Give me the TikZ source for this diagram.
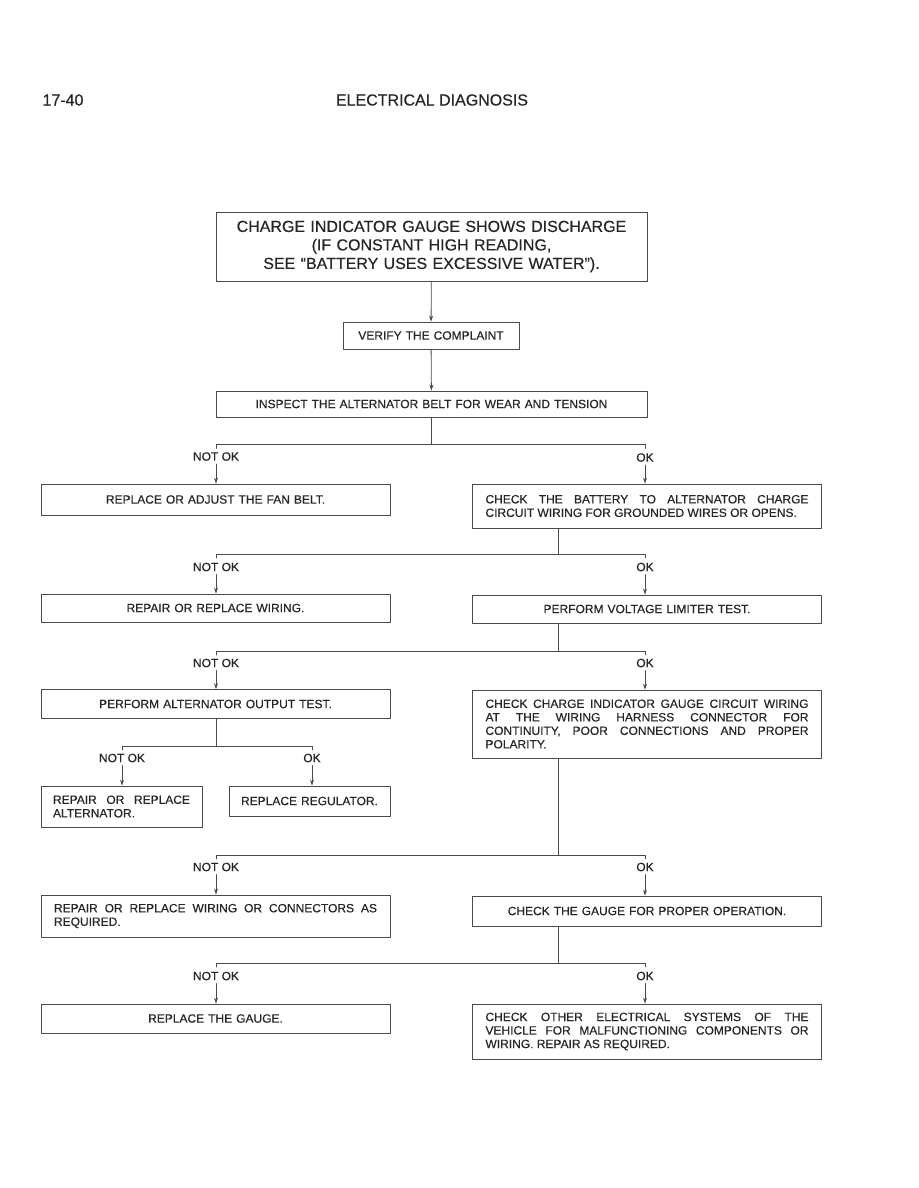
\documentclass[tikz,border=0pt]{standalone}
\usepackage{fontspec}
\setmainfont{Liberation Sans}
\newfontfamily\chartfont{Liberation Sans}[FakeBold=0.4]
\usepackage{tikz}
\usetikzlibrary{arrows.meta}
\definecolor{inkline}{HTML}{4A4A4A}
\definecolor{inktext}{HTML}{262626}
\tikzset{
every picture/.style={line cap=round,line join=round},
>={Stealth[length=6pt,width=4pt]},
chart box/.style={
  draw=inkline,
  line width=0.8pt,
  inner xsep=13pt,
  inner ysep=2pt,
  align=center,
  text=inktext,
  font=\chartfont\fontsize{12}{13.5}\selectfont
},
head box/.style={chart box, text width=405pt, font=\chartfont\fontsize{16}{18.5}\selectfont},
wide box/.style={chart box, text width=323pt},
wide text box/.style={wide box, align=justify},
narrow box/.style={chart box, text width=145pt, inner xsep=8pt},
narrow text box/.style={chart box, text width=137pt, inner xsep=12pt, align=justify},
branch label/.style={font=\chartfont\fontsize{12}{13.5}\selectfont, text=inktext, inner sep=3pt},
page head/.style={font=\chartfont\fontsize{16}{18}\selectfont, text=inktext, inner sep=0pt},
fig line/.style={draw=inkline, line width=0.8pt},
fig flow/.style={fig line, ->}
}
\begin{document}
\begin{tikzpicture}[x=1pt,y=-1pt]
\useasboundingbox[fill=white] (0,0) rectangle (918,1188);
\node[page head] (pagenum) at (63,100) {17-40};
\node[page head] (pagetitle) at (432,100) {ELECTRICAL DIAGNOSIS};

\node[head box, minimum height=69pt] (discharge) at (431.5,246.5) {CHARGE INDICATOR GAUGE SHOWS DISCHARGE\\(IF CONSTANT HIGH READING,\\SEE “BATTERY USES EXCESSIVE WATER”).};
\node[chart box, text width=150pt, minimum height=27pt] (verify) at (431,335.5) {VERIFY THE COMPLAINT};
\node[head box, font=\chartfont\fontsize{12}{13.5}\selectfont, minimum height=26pt] (belt) at (431.5,404) {INSPECT THE ALTERNATOR BELT FOR WEAR AND TENSION};
\node[wide box, minimum height=31pt] (fanbelt) at (215.5,499.5) {REPLACE OR ADJUST THE FAN BELT.};
\node[wide text box, minimum height=44pt] (battery) at (647,506) {CHECK THE BATTERY TO ALTERNATOR CHARGE\linebreak CIRCUIT WIRING FOR GROUNDED WIRES OR OPENS.};
\node[wide box, minimum height=28pt] (wiring) at (215.5,608) {REPAIR OR REPLACE WIRING.};
\node[wide box, minimum height=28pt] (limiter) at (647,609) {PERFORM VOLTAGE LIMITER TEST.};
\node[wide box, minimum height=29pt] (output) at (215.5,704) {PERFORM ALTERNATOR OUTPUT TEST.};
\node[wide text box, minimum height=68pt] (gaugewire) at (647,724) {CHECK CHARGE INDICATOR GAUGE CIRCUIT WIRING\linebreak AT THE WIRING HARNESS CONNECTOR FOR\linebreak CONTINUITY, POOR CONNECTIONS AND PROPER\linebreak POLARITY.};
\node[narrow text box, minimum height=41pt] (alternator) at (121.5,806.5) {REPAIR OR REPLACE\linebreak ALTERNATOR.};
\node[narrow box, minimum height=30pt] (regulator) at (309.5,801) {REPLACE REGULATOR.};
\node[wide text box, minimum height=42pt] (connectors) at (215.5,916) {REPAIR OR REPLACE WIRING OR CONNECTORS AS\linebreak REQUIRED.};
\node[wide box, minimum height=30pt] (gaugeop) at (647,911) {CHECK THE GAUGE FOR PROPER OPERATION.};
\node[wide box, minimum height=29pt] (gauge) at (215.5,1018.5) {REPLACE THE GAUGE.};
\node[wide text box, minimum height=55pt] (systems) at (647,1031.5) {CHECK OTHER ELECTRICAL SYSTEMS OF THE\linebreak VEHICLE FOR MALFUNCTIONING COMPONENTS OR\linebreak WIRING. REPAIR AS REQUIRED.};

\draw[fig flow] (discharge) -- (verify);
\draw[fig flow] (verify) -- (belt);

\coordinate (j1l) at (216,444.5);
\coordinate (j1r) at (645,444.5);
\draw[fig line] (belt.south) -- (belt.south |- j1l);
\draw[fig line] ([yshift=-4pt]j1l) -- (j1l) -- (j1r) -- ([yshift=-4pt]j1r);
\node[branch label] (notok1) at (216,456.5) {NOT OK};
\node[branch label] (ok1) at (645,457.5) {OK};
\draw[fig flow] (notok1.south) -- (notok1.south |- fanbelt.north);
\draw[fig flow] (ok1.south) -- (ok1.south |- battery.north);

\coordinate (s2) at (558,554);
\coordinate (j2l) at (216,554);
\coordinate (j2r) at (645,554);
\draw[fig line] (battery.south -| s2) -- (s2);
\draw[fig line] ([yshift=-4pt]j2l) -- (j2l) -- (j2r) -- ([yshift=-4pt]j2r);
\node[branch label] (notok2) at (216,567) {NOT OK};
\node[branch label] (ok2) at (645,567) {OK};
\draw[fig flow] (notok2.south) -- (notok2.south |- wiring.north);
\draw[fig flow] (ok2.south) -- (ok2.south |- limiter.north);

\coordinate (s3) at (558,651);
\coordinate (j3l) at (216,651);
\coordinate (j3r) at (645,651);
\draw[fig line] (limiter.south -| s3) -- (s3);
\draw[fig line] ([yshift=-4pt]j3l) -- (j3l) -- (j3r) -- ([yshift=-4pt]j3r);
\node[branch label] (notok3) at (216,663) {NOT OK};
\node[branch label] (ok3) at (645,663) {OK};
\draw[fig flow] (notok3.south) -- (notok3.south |- output.north);
\draw[fig flow] (ok3.south) -- (ok3.south |- gaugewire.north);

\coordinate (s4) at (216,746);
\coordinate (j4l) at (122,746);
\coordinate (j4r) at (312,746);
\draw[fig line] (output.south -| s4) -- (s4);
\draw[fig line] ([yshift=-4pt]j4l) -- (j4l) -- (j4r) -- ([yshift=-4pt]j4r);
\node[branch label] (notok4) at (122,758) {NOT OK};
\node[branch label] (ok4) at (312,758) {OK};
\draw[fig flow] (notok4.south) -- (notok4.south |- alternator.north);
\draw[fig flow] (ok4.south) -- (ok4.south |- regulator.north);

\coordinate (s5) at (558,855);
\coordinate (j5l) at (216,855);
\coordinate (j5r) at (645,855);
\draw[fig line] (gaugewire.south -| s5) -- (s5);
\draw[fig line] ([yshift=-4pt]j5l) -- (j5l) -- (j5r) -- ([yshift=-4pt]j5r);
\node[branch label] (notok5) at (216,867) {NOT OK};
\node[branch label] (ok5) at (645,867) {OK};
\draw[fig flow] (notok5.south) -- (notok5.south |- connectors.north);
\draw[fig flow] (ok5.south) -- (ok5.south |- gaugeop.north);

\coordinate (s6) at (558,963);
\coordinate (j6l) at (216,963);
\coordinate (j6r) at (645,963);
\draw[fig line] (gaugeop.south -| s6) -- (s6);
\draw[fig line] ([yshift=-4pt]j6l) -- (j6l) -- (j6r) -- ([yshift=-4pt]j6r);
\node[branch label] (notok6) at (216,976) {NOT OK};
\node[branch label] (ok6) at (645,976) {OK};
\draw[fig flow] (notok6.south) -- (notok6.south |- gauge.north);
\draw[fig flow] (ok6.south) -- (ok6.south |- systems.north);
\end{tikzpicture}
\end{document}
